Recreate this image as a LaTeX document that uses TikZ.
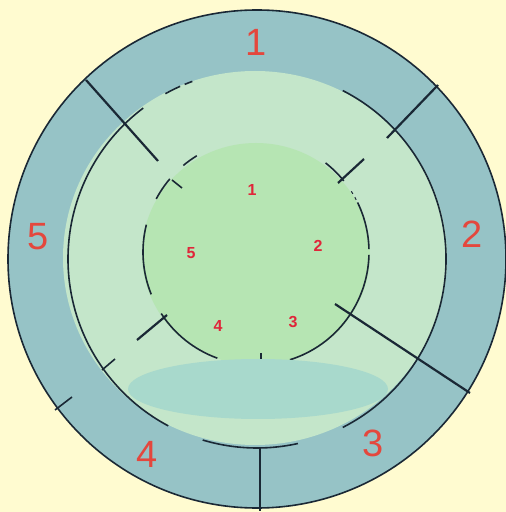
\documentclass[tikz,border=0pt]{standalone}
\usepackage{fontspec}
\setmainfont{Liberation Sans}
\definecolor{bgC}{HTML}{FFFBD0}
\definecolor{ringC}{HTML}{96C3C6}
\definecolor{paleC}{HTML}{C4E6CA}
\definecolor{greenC}{HTML}{B6E5B3}
\definecolor{ellC}{HTML}{A8D9CC}
\definecolor{lineC}{HTML}{1A2835}
\definecolor{labC}{HTML}{E4473D}
\definecolor{labS}{HTML}{E0263A}
\begin{document}
\begin{tikzpicture}[x=1pt,y=1pt,
  edge/.style={draw=lineC, line width=2.2pt},
  ringline/.style={draw=lineC, line width=1.6pt},
  big/.style={text=labC, font=\fontsize{38}{40}\selectfont, inner sep=0pt},
  small/.style={text=labS, font=\bfseries\fontsize{16}{18}\selectfont, inner sep=0pt}]
\useasboundingbox (0,0) rectangle (506,512);
\fill[bgC] (0,0) rectangle (506,512);
\coordinate (C) at (257,253);
\coordinate (I) at (256,260);
% regions
\fill[ringC] (C) circle[radius=249];
\fill[paleC] (255,254) ellipse[x radius=192, y radius=187];
\fill[greenC] (256,258) ellipse[x radius=114, y radius=111];
% outer circle
\draw[ringline] (C) circle[radius=249];
% middle circle arcs
\draw[ringline] ([shift={(C)}]-63:189) arc[start angle=-63,end angle=63,radius=189];
\draw[ringline] ([shift={(C)}]127:189) arc[start angle=127,end angle=242,radius=189];
\draw[ringline] ([shift={(C)}]253.3:189) arc[start angle=253.3,end angle=282.5,radius=189];
\draw[ringline] ([shift={(C)}]110:189) arc[start angle=110,end angle=112.5,radius=189];
\draw[ringline] ([shift={(C)}]114:189) arc[start angle=114,end angle=119,radius=189];
% inner circle arcs
\draw[ringline] ([shift={(I)}]-72.5:113) arc[start angle=-72.5,end angle=-1.5,radius=113];
\draw[ringline] ([shift={(I)}]1.5:113) arc[start angle=1.5,end angle=26,radius=113];
\draw[ringline, line width=1pt] ([shift={(I)}]27.5:113) arc[start angle=27.5,end angle=29,radius=113];
\draw[ringline, line width=1pt] ([shift={(I)}]31:113) arc[start angle=31,end angle=32.5,radius=113];
\draw[ringline] ([shift={(I)}]39:113) arc[start angle=39,end angle=52,radius=113];
\draw[ringline] ([shift={(I)}]121.6:113) arc[start angle=121.6,end angle=130,radius=113];
\draw[ringline] ([shift={(I)}]139.7:113) arc[start angle=139.7,end angle=152,radius=113];
\draw[ringline] ([shift={(I)}]166:113) arc[start angle=166,end angle=202,radius=113];
\draw[ringline] ([shift={(I)}]213:113) arc[start angle=213,end angle=250,radius=113];
% radial lines
\coordinate (ulA) at (86,432);  \coordinate (ulB) at (158,351);
\coordinate (urA) at (438,427); \coordinate (urB) at (387,374);
\coordinate (uriA) at (364,353); \coordinate (uriB) at (338,329);
\coordinate (ultA) at (172,332); \coordinate (ultB) at (182,324);
\coordinate (lliA) at (167,197); \coordinate (lliB) at (137,172);
\coordinate (llmA) at (115,153); \coordinate (llmB) at (102,142);
\coordinate (lloA) at (72,115);  \coordinate (lloB) at (55,102);
\coordinate (lrA) at (335,208);  \coordinate (lrB) at (470,119);
\coordinate (btA) at (260,64);   \coordinate (btB) at (260,1);
\coordinate (bsA) at (261,159);  \coordinate (bsB) at (261,153);
\draw[edge] (ulA) -- (ulB);
\draw[edge] (urA) -- (urB);
\draw[edge] (uriA) -- (uriB);
\draw[ringline] (ultA) -- (ultB);
\draw[edge] (lliA) -- (lliB);
\draw[ringline] (llmA) -- (llmB);
\draw[ringline] (lloA) -- (lloB);
\draw[edge] (lrA) -- (lrB);
\draw[ringline] (btA) -- (btB);
\draw[ringline] (bsA) -- (bsB);
% bottom ellipse
\fill[ellC] (258,123) ellipse[x radius=130, y radius=30];
% labels
\node[big] (b1) at (256,470) {1};
\node[big] (b2) at (472,278) {2};
\node[big] (b3) at (373,69) {3};
\node[big] (b4) at (147,58) {4};
\node[big] (b5) at (38,275) {5};
\node[small] (s1) at (252,322) {1};
\node[small] (s2) at (318,266) {2};
\node[small] (s3) at (293,190) {3};
\node[small] (s4) at (218,186) {4};
\node[small] (s5) at (191,259) {5};
\end{tikzpicture}
\end{document}
